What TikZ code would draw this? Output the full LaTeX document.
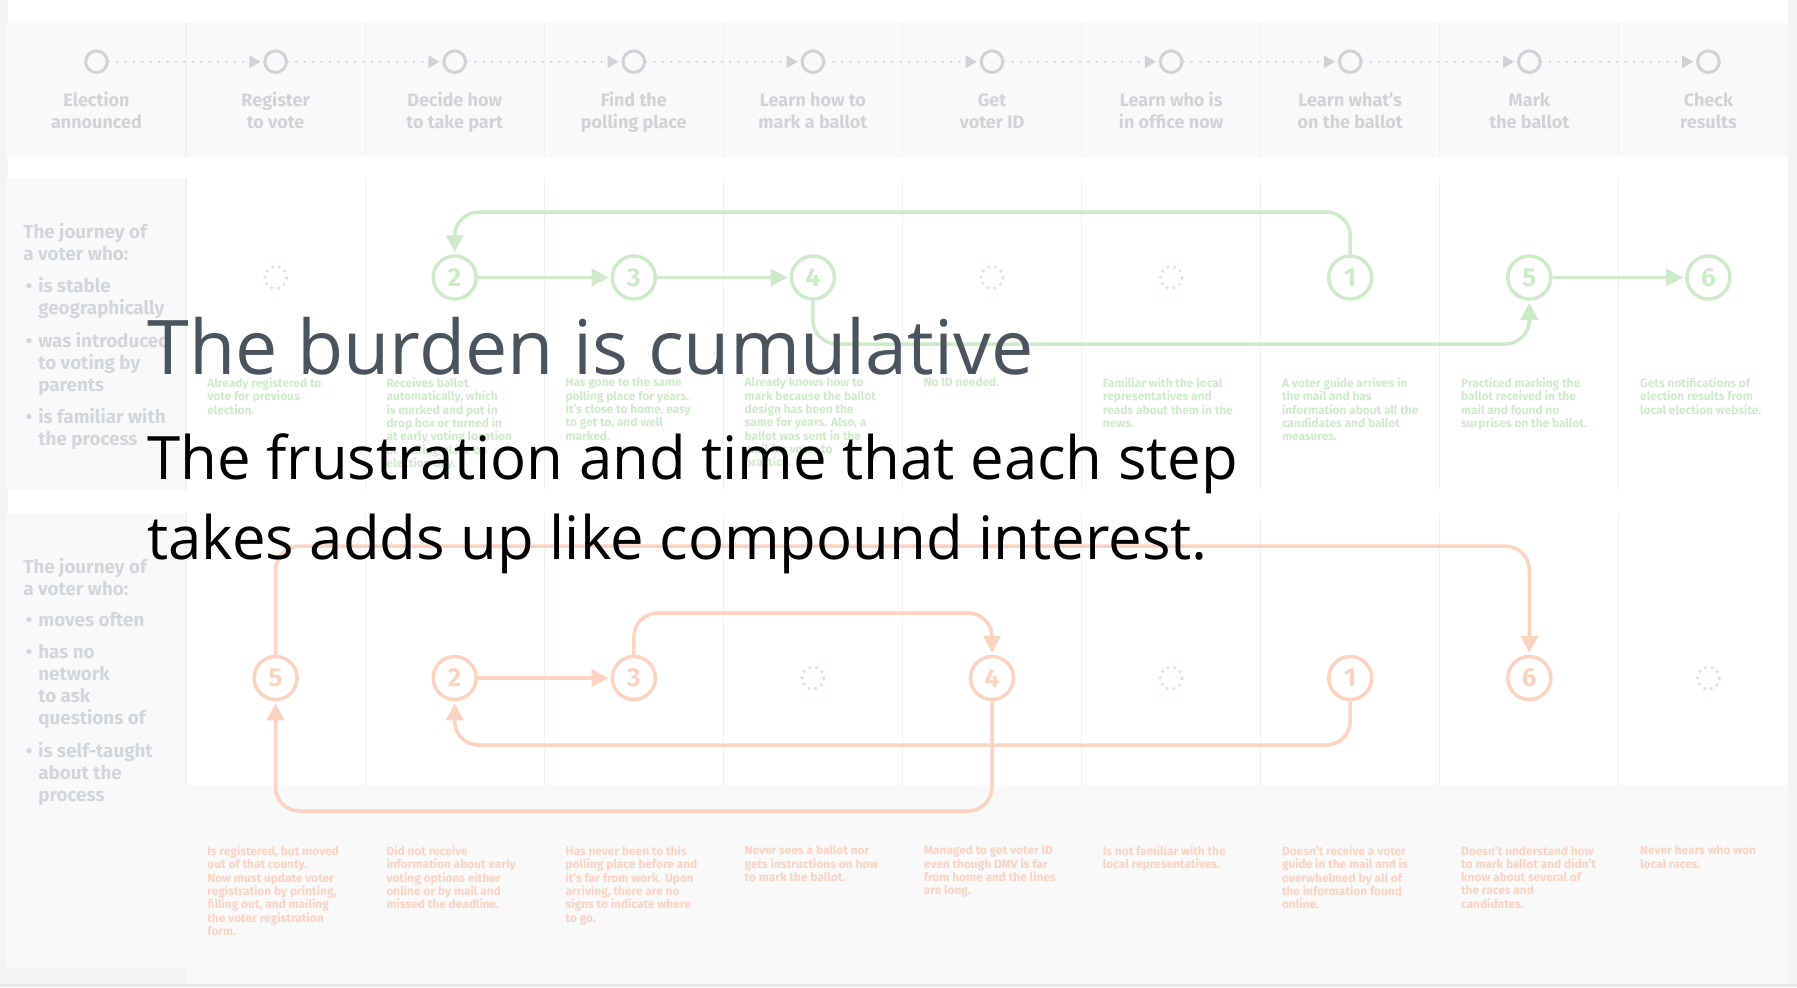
\documentclass[tikz,border=0pt]{standalone}
\usepackage{fontspec}
\usetikzlibrary{arrows.meta}
\setmainfont{Fira Sans}
\newfontfamily\displayfont{Open Sans}

\definecolor{pageBg}{HTML}{F3F4F4}
\definecolor{panelGray}{HTML}{F8F9F9}
\definecolor{noteGray}{HTML}{F9F9F9}
\definecolor{edgeGray}{HTML}{E8E8E8}
\definecolor{colRule}{HTML}{F0F1F1}
\definecolor{stepGray}{HTML}{D1D3D7}
\definecolor{labelGray}{HTML}{D3D6DB}
\definecolor{calmGreen}{HTML}{CDEBC9}
\definecolor{hardOrange}{HTML}{FCD3C0}
\definecolor{titleSlate}{HTML}{4A545E}

\tikzset{
  colrule/.style={draw=colRule, line width=0.6pt},
  stepdot/.style={circle, draw=stepGray, line width=1.5pt, minimum size=10.8pt, inner sep=0pt},
  stepflow/.style={draw=stepGray, line width=1.2pt, dash pattern=on 0pt off 4.2pt, line cap=round,
    -{Triangle[length=5.5pt,width=6.5pt,line width=0pt]}, shorten >=1.5pt},
  steplabel/.style={font=\bfseries\fontsize{9pt}{11pt}\selectfont, text=stepGray, align=center, anchor=north, inner sep=0pt},
  rowlabel/.style={font=\bfseries\fontsize{9.4pt}{11pt}\selectfont, text=labelGray, align=left, anchor=north west, inner sep=0pt},
  numstep/.style={circle, line width=1.75pt, minimum size=21.5pt, inner sep=0pt, font=\bfseries\fontsize{13pt}{13pt}\selectfont},
  pending/.style={circle, line width=1.6pt, minimum size=11pt, inner sep=0pt, dash pattern=on 0pt off 3.4pt, line cap=round},
  calmstep/.style={numstep, draw=calmGreen, text=calmGreen},
  calmpend/.style={pending, draw=calmGreen},
  hardstep/.style={numstep, draw=hardOrange, text=hardOrange},
  hardpend/.style={pending, draw=hardOrange},
  flowline/.style={line width=1.75pt, rounded corners=12pt, -{Triangle[length=8.5pt,width=8.5pt]}, shorten >=1pt},
  calmflow/.style={flowline, draw=calmGreen, fill=none},
  hardflow/.style={flowline, draw=hardOrange, fill=none},
  note/.style={font=\bfseries\fontsize{5.95pt}{6.65pt}\selectfont, align=left, anchor=north west, inner sep=0pt},
  calmnote/.style={note, text=calmGreen},
  hardnote/.style={note, text=hardOrange},
  headline/.style={font=\displayfont\fontsize{37.7pt}{40pt}\selectfont, text=titleSlate, anchor=base west, inner sep=0pt},
  subline/.style={font=\displayfont\fontsize{29.95pt}{40pt}\selectfont, text=black, anchor=base west, inner sep=0pt}
}

\begin{document}
\begin{tikzpicture}[x=0.5pt,y=-0.5pt]
\useasboundingbox (0,0) rectangle (1797,987);

% page, bands and panels
\fill[pageBg] (0,0) rectangle (1797,987);
\fill[white] (8,0) rectangle (1788,178);
\fill[panelGray] (6,23) rectangle (1788,157);
\fill[white] (8,490) rectangle (1788,513);
\fill[panelGray] (6,178) rectangle (186,490);
\fill[white] (186,178) rectangle (1788,490);
\fill[panelGray] (6,513) rectangle (186,967);
\fill[white] (186,513) rectangle (1788,785);
\fill[noteGray] (186,785) rectangle (1788,984);
\fill[edgeGray] (0,984) rectangle (1797,987);

% column rules
\foreach \k in {1,...,9} {
  \draw[colrule] ({186+179.1*(\k-1)},23) -- ++(0,134);
  \draw[colrule] ({186+179.1*(\k-1)},178) -- ++(0,312);
  \draw[colrule] ({186+179.1*(\k-1)},513) -- ++(0,272);
}

% steps of the process
\foreach \i in {0,...,9}
  \node[stepdot] (h\i) at ({96.5+179.1*\i},61.7) {};
\foreach \i [evaluate=\i as \j using int(\i+1)] in {0,...,8}
  \draw[stepflow] (h\i) -- (h\j);
\foreach \i/\txt in {0/{Election\\announced},1/{Register\\to vote},2/{Decide how\\to take part},
    3/{Find the\\polling place},4/{Learn how to\\mark a ballot},5/{Get\\voter ID},
    6/{Learn who is\\in office now},7/{Learn what’s\\on the ballot},8/{Mark\\the ballot},9/{Check\\results}}
  \node[steplabel] (hl\i) at ({96.5+179.1*\i},91) {\strut\txt};

% first voter: labels
\node[rowlabel] (ta) at (23,223) {The journey of\\a voter who:};
\node[rowlabel] (tb) at (38,277) {\llap{•\hspace{3pt}}is stable\\geographically};
\node[rowlabel] (tc) at (38,332) {\llap{•\hspace{3pt}}was introduced\\to voting by\\parents};
\node[rowlabel] (td) at (38,408) {\llap{•\hspace{3pt}}is familiar with\\the process};

% first voter: steps
\node[calmpend] (gp1) at (275.6,277.5) {};
\node[calmstep] (g2) at (454.7,277.5) {2};
\node[calmstep] (g3) at (633.8,277.5) {3};
\node[calmstep] (g4) at (812.9,277.5) {4};
\node[calmpend] (gp5) at (992.0,277.5) {};
\node[calmpend] (gp6) at (1171.1,277.5) {};
\node[calmstep] (g1) at (1350.2,277.5) {1};
\node[calmstep] (g5) at (1529.3,277.5) {5};
\node[calmstep] (g6) at (1708.4,277.5) {6};

\coordinate (laneA) at (0,212);
\coordinate (laneB) at (0,344);
\draw[calmflow] (g1.north) -- (g1.north |- laneA) -| (g2.north);
\draw[calmflow] (g2) -- (g3);
\draw[calmflow] (g3) -- (g4);
\draw[calmflow] (g4.south) -- (g4.south |- laneB) -| (g5.south);
\draw[calmflow] (g5) -- (g6);

% first voter: notes
\node[calmnote] (gn1) at (207,377.5) {Already registered to\\vote for previous\\election.};
\node[calmnote] (gn2) at (386.1,377.5) {Receives ballot\\automatically, which\\is marked and put in\\drop box or turned in\\at early voting location\\or polling place on\\election day.};
\node[calmnote] (gn3) at (565.2,377.5) {Has gone to the same\\polling place for years.\\It’s close to home, easy\\to get to, and well\\marked.};
\node[calmnote] (gn4) at (744.3,377.5) {Already knows how to\\mark because the ballot\\design has been the\\same for years. Also, a\\ballot was sent in the\\mail for voter to\\practice.};
\node[calmnote] (gn5) at (923.4,377.5) {No ID needed.};
\node[calmnote] (gn6) at (1102.5,377.5) {Familiar with the local\\representatives and\\reads about them in the\\news.};
\node[calmnote] (gn7) at (1281.6,377.5) {A voter guide arrives in\\the mail and has\\information about all the\\candidates and ballot\\measures.};
\node[calmnote] (gn8) at (1460.7,377.5) {Practiced marking the\\ballot received in the\\mail and found no\\surprises on the ballot.};
\node[calmnote] (gn9) at (1639.8,377.5) {Gets notifications of\\election results from\\local election website.};

% second voter: labels
\node[rowlabel] (ba) at (23,558) {The journey of\\a voter who:};
\node[rowlabel] (bb) at (38,612) {\llap{•\hspace{3pt}}moves often};
\node[rowlabel] (bc) at (38,644) {\llap{•\hspace{3pt}}has no\\network\\to ask\\questions of};
\node[rowlabel] (bd) at (38,742) {\llap{•\hspace{3pt}}is self-taught\\about the\\process};

% second voter: steps
\node[hardstep] (o5) at (275.6,678) {5};
\node[hardstep] (o2) at (454.7,678) {2};
\node[hardstep] (o3) at (633.8,678) {3};
\node[hardpend] (op4) at (812.9,678) {};
\node[hardstep] (o4) at (992.0,678) {4};
\node[hardpend] (op6) at (1171.1,678) {};
\node[hardstep] (o1) at (1350.2,678) {1};
\node[hardstep] (o6) at (1529.3,678) {6};
\node[hardpend] (op9) at (1708.4,678) {};

\coordinate (laneC) at (0,546);
\coordinate (laneD) at (0,613);
\coordinate (laneE) at (0,745);
\coordinate (laneF) at (0,811);
\draw[hardflow] (o1.south) -- (o1.south |- laneE) -| (o2.south);
\draw[hardflow] (o2) -- (o3);
\draw[hardflow] (o3.north) -- (o3.north |- laneD) -| (o4.north);
\draw[hardflow] (o4.south) -- (o4.south |- laneF) -| (o5.south);
\draw[hardflow] (o5.north) -- (o5.north |- laneC) -| (o6.north);

% second voter: notes
\node[hardnote] (on1) at (207,845.5) {Is registered, but moved\\out of that county.\\Now must update voter\\registration by printing,\\filling out, and mailing\\the voter registration\\form.};
\node[hardnote] (on2) at (386.1,845.5) {Did not receive\\information about early\\voting options either\\online or by mail and\\missed the deadline.};
\node[hardnote] (on3) at (565.2,845.5) {Has never been to this\\polling place before and\\it’s far from work. Upon\\arriving, there are no\\signs to indicate where\\to go.};
\node[hardnote] (on4) at (744.3,845.5) {Never sees a ballot nor\\gets instructions on how\\to mark the ballot.};
\node[hardnote] (on5) at (923.4,845.5) {Managed to get voter ID\\even though DMV is far\\from home and the lines\\are long.};
\node[hardnote] (on6) at (1102.5,845.5) {Is not familiar with the\\local representatives.};
\node[hardnote] (on7) at (1281.6,845.5) {Doesn’t receive a voter\\guide in the mail and is\\overwhelmed by all of\\the information found\\online.};
\node[hardnote] (on8) at (1460.7,845.5) {Doesn’t understand how\\to mark ballot and didn’t\\know about several of\\the races and\\candidates.};
\node[hardnote] (on9) at (1639.8,845.5) {Never hears who won\\local races.};

% headline text on top
\node[headline] (title) at (147,374) {The burden is cumulative};
\node[subline] (sub1) at (147,479) {The frustration and time that each step};
\node[subline] (sub2) at (147,559) {takes adds up like compound interest.};
\end{tikzpicture}
\end{document}
